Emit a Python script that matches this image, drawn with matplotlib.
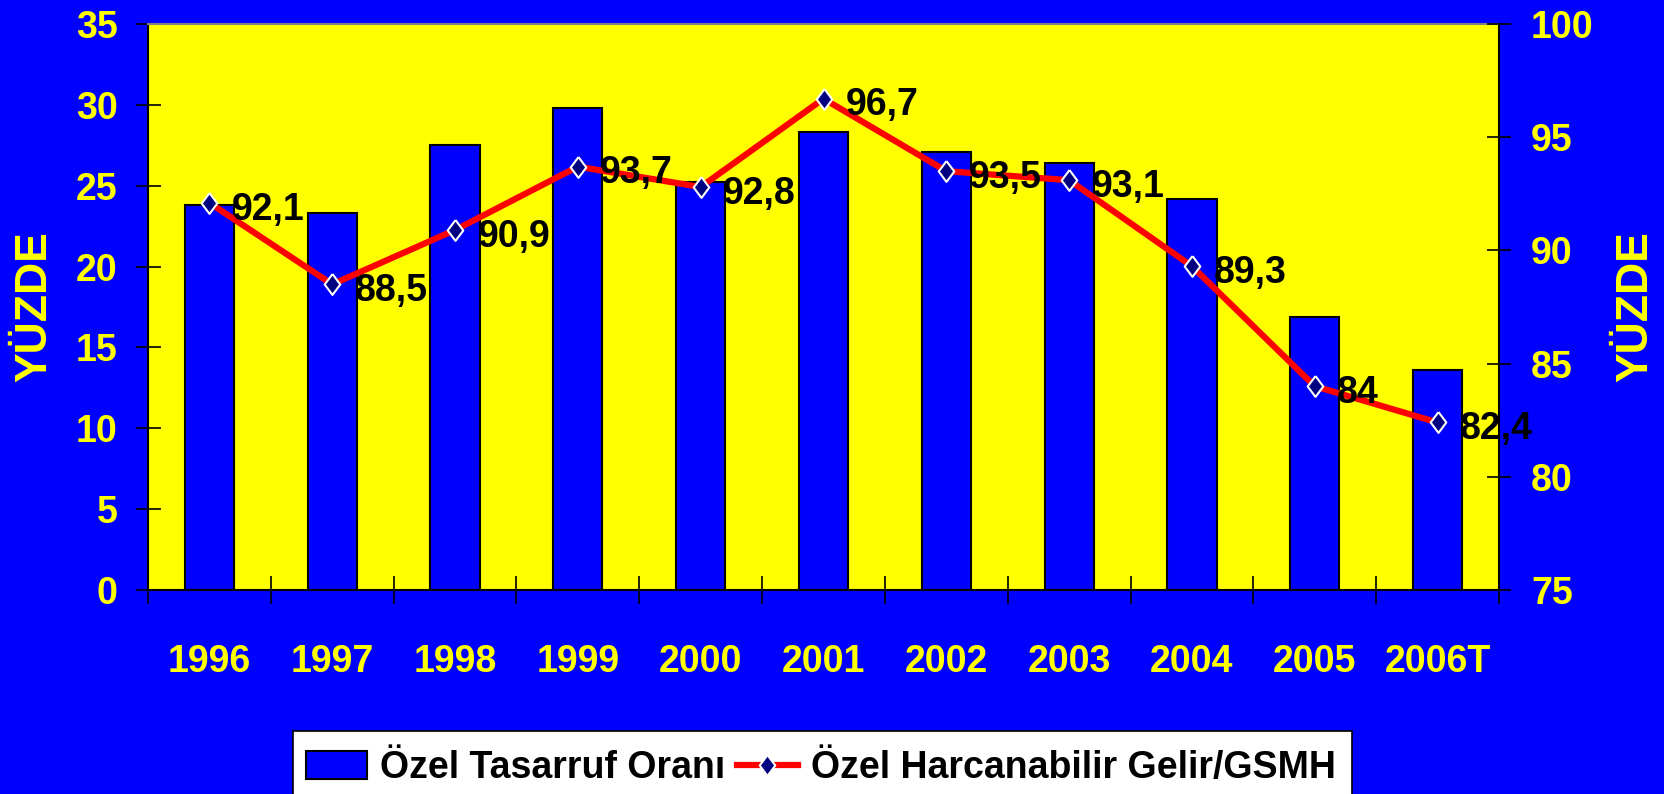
import numpy as np
import matplotlib
matplotlib.use("Agg")
import matplotlib.pyplot as plt
from matplotlib import font_manager
from matplotlib.patches import Rectangle

years = ['1996', '1997', '1998', '1999', '2000', '2001', '2002', '2003', '2004', '2005', '2006T']
tasarruf = [23.8, 23.3, 27.5, 29.8, 25.2, 28.3, 27.1, 26.4, 24.2, 16.9, 13.6]
gelir = [92.1, 88.5, 90.9, 93.7, 92.8, 96.7, 93.5, 93.1, 89.3, 84.0, 82.4]
gelir_labels = ['92,1', '88,5', '90,9', '93,7', '92,8', '96,7', '93,5', '93,1', '89,3', '84', '82,4']
left_ticks = [0, 5, 10, 15, 20, 25, 30, 35]
right_ticks = [75, 80, 85, 90, 95, 100]

names = {f.name for f in font_manager.fontManager.ttflist}
if 'Liberation Sans Narrow' in names:
    fam, fs = 'Liberation Sans Narrow', 32
else:
    fam, fs = 'Liberation Sans', 27
plt.rcParams['font.family'] = [fam, 'DejaVu Sans']
plt.rcParams['font.weight'] = 'bold'

BLUE = '#0000FF'
YEL = '#FFFF00'
# diamond a bit fatter than matplotlib's 'd'
diamond = [(0, 1), (0.75, 0), (0, -1), (-0.75, 0), (0, 1)]

fig = plt.figure(figsize=(16.65, 7.94), dpi=100, facecolor=BLUE)
ax = fig.add_axes([0.08889, 0.25693, 0.81141, 0.71285])
ax.set_facecolor(YEL)
x = np.arange(len(years))

bars = ax.bar(x, tasarruf, width=0.40, color=BLUE, edgecolor='black', linewidth=1.5,
              label='Özel Tasarruf Oranı', zorder=2)
ax.set_xlim(-0.5, len(years) - 0.5)
ax.set_ylim(0, 35)
ax.set_yticks(left_ticks)
ax.set_xticks(np.arange(-0.5, len(years), 1))
ax.set_xticklabels([])
ax.set_xticks(x, minor=True)
ax.set_xticklabels(years, minor=True)
ax.tick_params(axis='y', direction='inout', length=18, width=1.2, color='black',
               labelcolor=YEL, labelsize=fs, pad=13)
ax.tick_params(axis='x', which='major', direction='inout', length=20, width=1.2, color='black')
ax.tick_params(axis='x', which='minor', length=0, labelcolor=YEL, labelsize=fs, pad=39)
for s in ['left', 'bottom']:
    ax.spines[s].set_color('black')
    ax.spines[s].set_linewidth(1.5)
ax.spines['top'].set_color('#808080')
ax.spines['top'].set_linewidth(1.5)
ax.spines['right'].set_visible(False)

ax2 = ax.twinx()
line, = ax2.plot(x, gelir, color='red', linewidth=4.5, marker=diamond,
                 markersize=15, markerfacecolor='#000080', markeredgecolor='white',
                 markeredgewidth=1.5, label='Özel Harcanabilir Gelir/GSMH', zorder=3)
ax2.set_ylim(75, 100)
ax2.set_yticks(right_ticks)
ax2.tick_params(axis='y', direction='inout', length=17, width=1.2, color='black',
                labelcolor=YEL, labelsize=fs, pad=14.5)
for s in ['left', 'bottom', 'top']:
    ax2.spines[s].set_visible(False)
ax2.spines['right'].set_color('black')
ax2.spines['right'].set_linewidth(1.5)

for xi, v, lab in zip(x, gelir, gelir_labels):
    ax2.annotate(lab, (xi, v), xytext=(16, -12), textcoords='offset points',
                 ha='left', va='baseline', fontsize=fs, color='black',
                 fontweight='bold', zorder=5, annotation_clip=False)

fig.text(35 / 1665, 1 - 307 / 794, 'YÜZDE', rotation=90, ha='center', va='center',
         color=YEL, fontsize=32, fontweight='bold', family='Liberation Sans')
fig.text(1636 / 1665, 1 - 307 / 794, 'YÜZDE', rotation=90, ha='center', va='center',
         color=YEL, fontsize=32, fontweight='bold', family='Liberation Sans')

# legend box runs off the bottom edge of the picture
fig.add_artist(Rectangle((293 / 1665, -0.02), (1352 - 293) / 1665, 0.02 + 1 - 730.6 / 794,
                         transform=fig.transFigure, facecolor='white', edgecolor='black',
                         linewidth=1.2, zorder=1))
leg = fig.legend(handles=[bars, line], labels=['Özel Tasarruf Oranı', 'Özel Harcanabilir Gelir/GSMH'],
                 loc='center left', bbox_to_anchor=(306 / 1665, 1 - 768 / 794),
                 ncol=2, frameon=False, borderaxespad=0, borderpad=0,
                 handlelength=1.63, handleheight=0.75,
                 handletextpad=0.35, columnspacing=0.3,
                 prop={'family': fam, 'size': fs, 'weight': 'bold'})
leg.set_zorder(2)

fig.savefig('out.png', dpi=100, facecolor=BLUE)
